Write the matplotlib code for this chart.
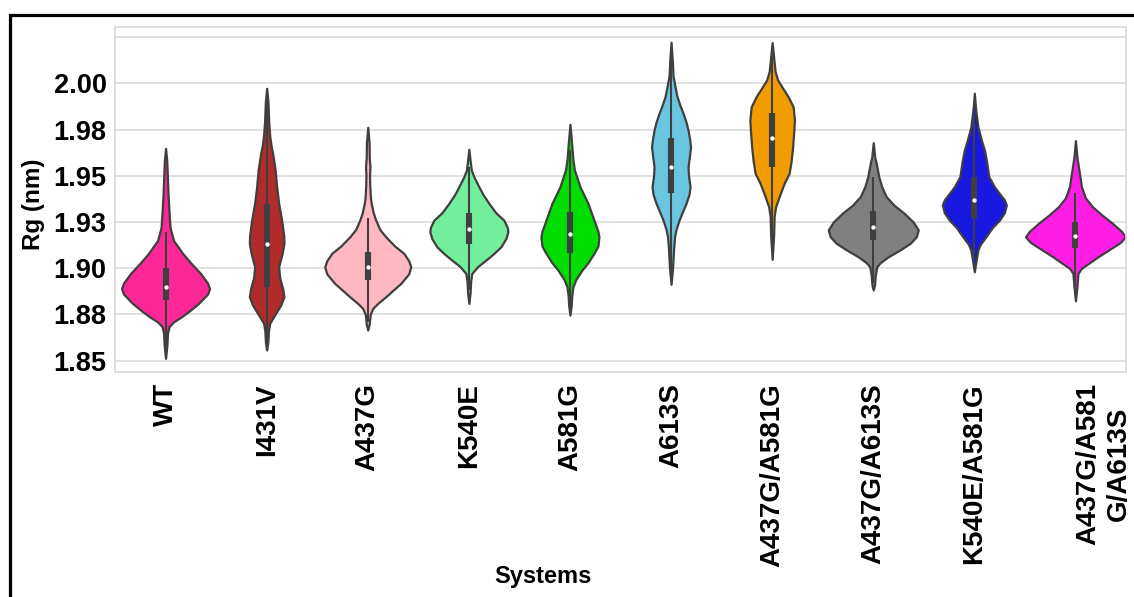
import matplotlib
matplotlib.use("Agg")
import matplotlib.pyplot as plt
from matplotlib.patches import Rectangle
import numpy as np

# Rg distributions per system: KDE profile (Rg in nm, density in arbitrary units)
systems = ["WT", "I431V", "A437G", "K540E", "A581G", "A613S",
           "A437G/A581G", "A437G/A613S", "K540E/A581G", "A437G/A581\nG/A613S"]
colors = ["#fd2795", "#b22b2b", "#ffb7c2", "#72ee9c", "#00dd00", "#6ac6e0",
          "#f29c00", "#808080", "#1818e0", "#ff1de6"]

q1 = [1.8828, 1.8900, 1.8936, 1.9131, 1.9081, 1.9405, 1.9549, 1.9152, 1.9270, 1.9108]
median = [1.8900, 1.9131, 1.9008, 1.9210, 1.9185, 1.9549, 1.9703, 1.9224, 1.9369, 1.9174]
q3 = [1.8999, 1.9346, 1.9086, 1.9300, 1.9306, 1.9703, 1.9838, 1.9309, 1.9495, 1.9248]
whisk_lo = [1.858, 1.862, 1.871, 1.888, 1.879, 1.897, 1.912, 1.892, 1.905, 1.890]
whisk_hi = [1.9197, 1.990, 1.9273, 1.955, 1.964, 2.015, 2.015, 1.9495, 1.983, 1.9405]

wt_rg = [1.9648, 1.958, 1.950, 1.940, 1.930, 1.922, 1.915, 1.9081, 1.903, 1.8972, 1.892,
         1.889, 1.886, 1.881, 1.877, 1.8738, 1.871, 1.8684, 1.865, 1.858, 1.8513]
wt_dens = [0, 1.2, 1.8, 2.5, 3.5, 4.5, 8, 17, 25, 35, 42, 44, 42, 33, 24, 16, 8, 3.5, 2, 1.3, 0]

i431v_rg = [1.9973, 1.990, 1.980, 1.972, 1.966, 1.9621, 1.9531, 1.9441, 1.9351, 1.926, 1.918,
            1.9135, 1.908, 1.9008, 1.895, 1.889, 1.8846, 1.880, 1.8756, 1.872, 1.8702, 1.866,
            1.860, 1.8558]
i431v_dens = [0, 1.3, 2, 3, 4.5, 6, 8.5, 10, 12, 15, 17, 17.3, 15.5, 12, 13, 16, 17.3, 14, 9,
              5, 3, 1.8, 1.2, 0]

a437g_rg = [1.9762, 1.968, 1.960, 1.955, 1.950, 1.945, 1.938, 1.935, 1.930, 1.926, 1.921,
            1.917, 1.912, 1.9081, 1.904, 1.9008, 1.897, 1.8918, 1.888, 1.8846, 1.881,
            1.8783, 1.875, 1.870, 1.8666]
a437g_dens = [0, 1.3, 1.5, 2.2, 1.8, 2, 2.7, 3.5, 5.5, 8, 12, 18, 27, 36, 41, 43, 41, 33, 25,
              18, 10, 5, 2.5, 1.5, 0]

k540e_rg = [1.9643, 1.958, 1.953, 1.9495, 1.9441, 1.940, 1.9351, 1.930, 1.926, 1.922, 1.9197,
            1.916, 1.9116, 1.908, 1.9044, 1.901, 1.8972, 1.893, 1.887, 1.881]
k540e_dens = [0, 1.3, 2.5, 5, 10, 14, 20, 27, 35, 38.5, 39, 37, 32, 25, 17, 9, 3, 1.8, 1.3, 0]

a581g_rg = [1.9778, 1.970, 1.9585, 1.9531, 1.9441, 1.9351, 1.926, 1.920, 1.917, 1.912, 1.9081,
            1.903, 1.899, 1.894, 1.890, 1.885, 1.880, 1.8747]
a581g_dens = [0, 1.3, 3, 4.5, 10, 18, 24, 28, 29, 28, 24, 18, 12, 6, 3, 1.8, 1.3, 0]

a613s_rg = [2.0222, 2.012, 2.004, 1.9982, 1.9928, 1.988, 1.9838, 1.979, 1.9747, 1.970, 1.9657,
            1.961, 1.9549, 1.950, 1.9441, 1.940, 1.9351, 1.930, 1.926, 1.921, 1.917, 1.910,
            1.900, 1.8913]
a613s_dens = [0, 1.3, 2, 4, 6, 9, 12, 15, 17, 18.5, 19.5, 18.5, 17, 17.5, 19, 18, 15, 11, 8,
              5, 3.5, 2.5, 1.5, 0]

dbl1_rg = [2.0220, 2.014, 2.0063, 2.0018, 1.997, 1.9928, 1.9873, 1.9801, 1.973, 1.9657, 1.958,
           1.9513, 1.9459, 1.9387, 1.9333, 1.928, 1.918, 1.9048]
dbl1_dens = [0, 1.5, 3, 5.5, 11, 16, 21, 22.3, 21.5, 20.5, 19, 17, 12, 7, 3.5, 2, 1.5, 0]

dbl2_rg = [1.9679, 1.960, 1.9567, 1.9495, 1.944, 1.9387, 1.934, 1.9297, 1.925, 1.9207, 1.917,
           1.9135, 1.910, 1.9062, 1.903, 1.9008, 1.896, 1.891, 1.8882]
dbl2_dens = [0, 1.5, 3, 5.5, 8.5, 13, 21, 31, 40, 45, 43, 37, 27, 15, 7, 3.5, 2, 1.3, 0]

dbl3_rg = [1.9946, 1.986, 1.9765, 1.9693, 1.964, 1.9585, 1.9531, 1.9495, 1.9441, 1.9405, 1.937,
           1.9342, 1.930, 1.926, 1.922, 1.917, 1.913, 1.9098, 1.905, 1.8981]
dbl3_dens = [0, 1.3, 3.5, 7, 10, 12, 13.5, 14.5, 20, 25, 30, 32, 30, 25, 18, 11.5, 6, 3.5, 2, 0]

tri_rg = [1.9690, 1.960, 1.9513, 1.9441, 1.938, 1.9333, 1.929, 1.9243, 1.920, 1.917, 1.914,
          1.9098, 1.906, 1.9026, 1.900, 1.8972, 1.890, 1.8824]
tri_dens = [0, 1.5, 4, 6, 10, 17, 26, 37, 46, 50, 45, 33, 22, 13, 6, 2.5, 1.5, 0]

profiles = [(wt_rg, wt_dens), (i431v_rg, i431v_dens), (a437g_rg, a437g_dens),
            (k540e_rg, k540e_dens), (a581g_rg, a581g_dens), (a613s_rg, a613s_dens),
            (dbl1_rg, dbl1_dens), (dbl2_rg, dbl2_dens), (dbl3_rg, dbl3_dens), (tri_rg, tri_dens)]

yticks = [1.850, 1.875, 1.900, 1.925, 1.950, 1.975, 2.000, 2.025]
ytick_labels = ["1.85", "1.88", "1.90", "1.93", "1.95", "1.98", "2.00", ""]

plt.rcParams["font.family"] = ["Liberation Sans", "DejaVu Sans"]
gray = "#3f3f3f"
dens_scale = 1 / 101.1  # density units -> half-width in category units

fig = plt.figure(figsize=(11.34, 5.97), dpi=100)
ax = fig.add_axes([115 / 1134, 225 / 597, 1011 / 1134, 345.3 / 597])

positions = np.arange(len(systems))
vpstats = []
widths = []
for (rg, dens), med in zip(profiles, median):
    rg = np.asarray(rg)
    dens = np.asarray(dens, dtype=float)
    vpstats.append(dict(coords=rg, vals=dens, mean=med, median=med,
                        min=rg.min(), max=rg.max()))
    widths.append(2 * dens.max() * dens_scale)

parts = ax.violin(vpstats, positions=positions, widths=widths,
                  showmeans=False, showextrema=False, showmedians=False)
for body, c in zip(parts["bodies"], colors):
    body.set_facecolor(c)
    body.set_edgecolor(gray)
    body.set_linewidth(1.6)
    body.set_alpha(1)
    body.set_zorder(2)

# inner box: whiskers, interquartile bar and median dot
ax.vlines(positions, whisk_lo, whisk_hi, color=gray, lw=1.5, zorder=3)
ax.vlines(positions, q1, q3, color=gray, lw=4.4, zorder=3)
ax.scatter(positions, median, s=10, color="white", zorder=4, linewidths=0)

ax.set_xlim(-0.5, len(systems) - 0.5)
ax.set_ylim(1.8439, 2.0306)
ax.set_yticks(yticks)
ax.set_yticklabels(ytick_labels, fontsize=19.5, fontweight="bold")
ax.set_xticks(positions)
ax.set_xticklabels(systems, rotation=90, fontsize=20, fontweight="bold",
                   va="top", multialignment="center")
ax.get_xticklabels()[-1].set_horizontalalignment("left")
ax.tick_params(axis="both", length=0)
ax.tick_params(axis="y", pad=6)
ax.tick_params(axis="x", pad=8)

ax.grid(axis="y", color="#dcdcdc", lw=1.2)
ax.set_axisbelow(True)
for sp in ax.spines.values():
    sp.set_color("#d9d9d9")
    sp.set_linewidth(1.2)

ax.set_ylabel("Rg (nm)", fontsize=17.5, fontweight="bold")
ax.yaxis.set_label_coords(-70 / 1011, (372 - 204) / 345.3)
ax.set_xlabel("Systems", fontsize=17, fontweight="bold")
ax.xaxis.set_label_coords((543 - 115) / 1011, -(576 - 372) / 345.3)
ax.xaxis.label.set_verticalalignment("center")

# outer black frame
fig.patches.append(Rectangle((9.5 / 1134, -0.2), 1.2, 1.2 - 15 / 597,
                             transform=fig.transFigure, fill=False,
                             ec="black", lw=2.3))

fig.savefig("out.png", dpi=100)
